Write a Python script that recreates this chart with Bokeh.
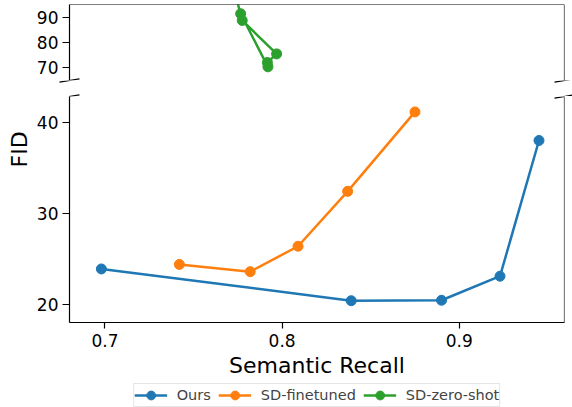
from bokeh.plotting import figure
from bokeh.layouts import column
from bokeh.models import Range1d, FixedTicker, Span, Arrow, Title, Legend, LegendItem
from bokeh.embed import file_html
from bokeh.resources import INLINE

# ---- data ----
ours_x = [0.698, 0.839, 0.890, 0.923, 0.945]
ours_y = [23.9, 20.4, 20.45, 23.1, 38.05]
ft_x = [0.742, 0.782, 0.809, 0.837, 0.875]
ft_y = [24.4, 23.6, 26.4, 32.45, 41.2]
zs_x = [0.769, 0.7766, 0.792, 0.7917, 0.7969, 0.7775]
zs_y = [110.0, 91.35, 70.4, 72.1, 75.5, 88.7]

x_ticks = [0.7, 0.8, 0.9]
top_ticks = [70, 80, 90]
bot_ticks = [20, 30, 40]

x_lo, x_hi = 0.680, 0.9594
top_lo, top_hi = 65, 95
bot_lo, bot_hi = 18.0, 42.9

series = [
    ("Ours", ours_x, ours_y, "#1f77b4"),
    ("SD-finetuned", ft_x, ft_y, "#ff7f0e"),
    ("SD-zero-shot", zs_x, zs_y, "#2ca02c"),
]

FONT = "DejaVu Sans"
FW, LB, RB = 495, 69, 8
GAP = 16
BOT_H = 226

xr = Range1d(x_lo, x_hi)

def style_ax(ax, ticks):
    ax.ticker = FixedTicker(ticks=ticks)
    ax.major_label_text_font = FONT
    ax.major_label_text_font_size = "17px"
    ax.major_label_text_color = "black"
    ax.axis_line_color = "black"
    ax.axis_line_width = 1.2
    ax.major_tick_line_width = 1.2
    ax.major_tick_out = 7
    ax.major_tick_in = 0
    ax.minor_tick_out = 0
    ax.minor_tick_in = 0
    ax.major_label_standoff = 4

def spines(p, top):
    if top:
        p.add_layout(Span(location=top_hi, dimension="width", line_color="black", line_width=1.2))
    p.add_layout(Span(location=x_hi, dimension="height", line_color="black", line_width=1.2))

def brk(p, xs, y):
    for x in xs:
        p.add_layout(Arrow(end=None, start=None, x_start=x - 10, y_start=y - 1.7,
                           x_end=x + 10, y_end=y + 1.7, start_units="screen",
                           end_units="screen", line_color="black", line_width=1.2))

def bare(p):
    p.outline_line_color = None
    p.grid.visible = False

# ---- top panel ----
p1 = figure(frame_width=FW, frame_height=76, x_range=xr, y_range=Range1d(top_lo, top_hi),
            output_backend="svg", toolbar_location=None, x_axis_location=None,
            min_border_left=LB, min_border_right=RB, min_border_top=4, min_border_bottom=0)
bare(p1)
style_ax(p1.yaxis[0], top_ticks)
spines(p1, True)
brk(p1, [0, FW], 0)

# ---- gap strip (only carries the break marks) ----
pm = figure(frame_width=LB + FW + RB, frame_height=GAP, output_backend="svg",
            toolbar_location=None, x_axis_location=None, y_axis_location=None,
            min_border=0, x_range=Range1d(0, 1), y_range=Range1d(0, 1))
pm.frame_align = False
bare(pm)
brk(pm, [LB, LB + FW], GAP)
brk(pm, [LB, LB + FW], 0)

# ---- bottom panel ----
p2 = figure(frame_width=FW, frame_height=BOT_H, x_range=xr, y_range=Range1d(bot_lo, bot_hi),
            output_backend="svg", toolbar_location=None,
            min_border_left=LB, min_border_right=RB, min_border_top=0, min_border_bottom=0)
bare(p2)
style_ax(p2.yaxis[0], bot_ticks)
xa = p2.xaxis[0]
style_ax(xa, x_ticks)
xa.major_tick_out = 6
xa.major_label_standoff = 5
xa.axis_label = "Semantic Recall"
xa.axis_label_text_font = FONT
xa.axis_label_text_font_size = "22px"
xa.axis_label_text_font_style = "normal"
xa.axis_label_text_color = "black"
xa.axis_label_standoff = 3
spines(p2, False)
brk(p2, [0, FW], BOT_H)

p2.add_layout(Title(text="FID", align="left", offset=155, standoff=4,
                    text_font=FONT, text_font_size="22px", text_font_style="normal",
                    text_color="black"), "left")

# ---- legend strip: same series, data lies outside its (empty) frame range ----
pl = figure(frame_width=FW, frame_height=30, x_range=xr, y_range=Range1d(-1001, -1000),
            output_backend="svg", toolbar_location=None, x_axis_location=None,
            y_axis_location=None, min_border_left=LB, min_border_right=RB,
            min_border_top=0, min_border_bottom=0)
bare(pl)

items = []
for name, xs, ys, col in series:
    for p in (p1, p2, pl):
        l = p.line(xs, ys, line_color=col, line_width=2.5)
        s = p.scatter(xs, ys, size=10, fill_color=col, line_color=col)
        if p is pl:
            items.append(LegendItem(label=name, renderers=[l, s]))

leg = Legend(items=items, orientation="horizontal", location="top_center",
             label_text_font=FONT, label_text_font_size="14.5px",
             glyph_width=33, glyph_height=22, label_height=22, label_standoff=10,
             spacing=7, padding=0, margin=3,
             border_line_color="#cccccc", border_line_width=1)
pl.add_layout(leg, "center")

lay = column(p1, pm, p2, pl, spacing=0)
open("out.html", "w").write(file_html(lay, INLINE))
